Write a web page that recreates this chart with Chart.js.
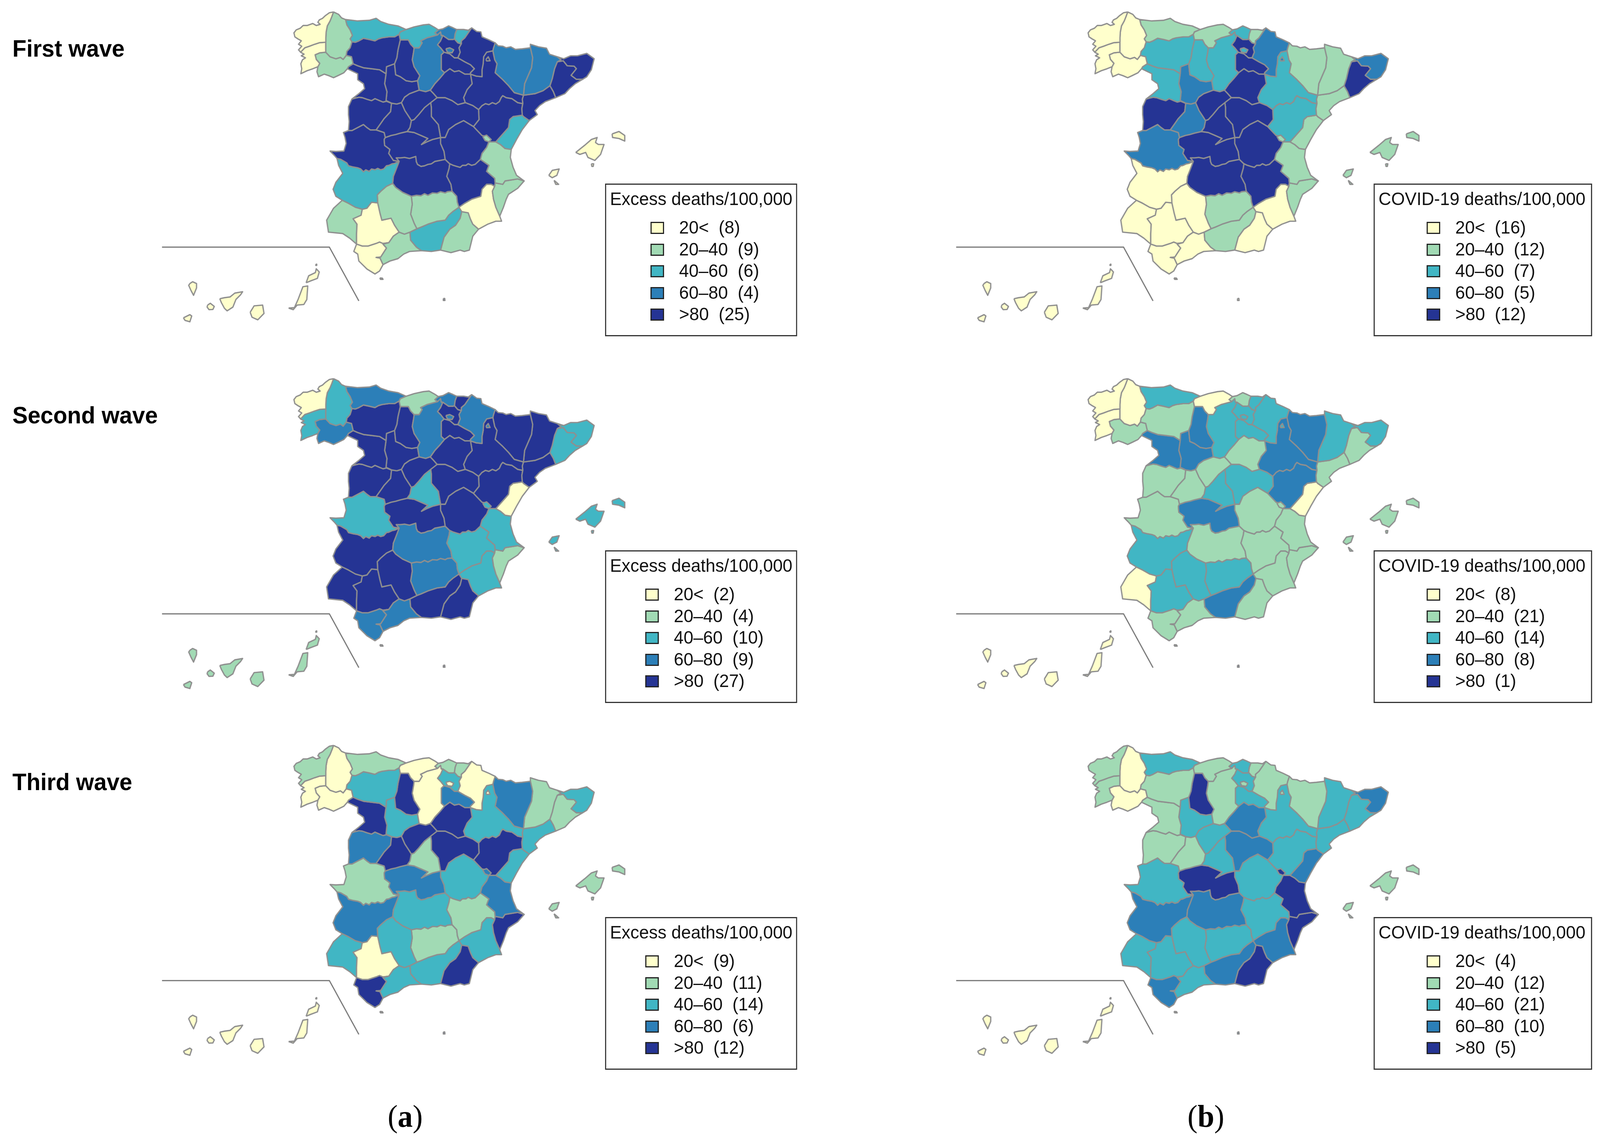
<!DOCTYPE html>
<html><head><meta charset="utf-8">
<script src="https://cdn.jsdelivr.net/npm/chart.js@4"></script>
<style>
html,body{margin:0;padding:0;background:#fff;overflow:hidden}
#page{position:relative;width:4255px;height:2924px;overflow:hidden;background:#fff;transform-origin:0 0}
canvas{position:absolute}
.t{position:absolute;white-space:pre;font-family:"Liberation Sans",Arial,sans-serif;line-height:1;color:#111}
.box{position:absolute;border:3px solid #333;box-sizing:border-box}
.sw{position:absolute;border:3px solid #222;box-sizing:border-box}
</style></head><body><div id="page"></div>
<script>
// ---------- data ----------
const provinces=["A Coruña","Pontevedra","Lugo","Ourense","Asturias","Cantabria","Bizkaia","Gipuzkoa","Álava","Navarra","Burgos","León","Palencia","Zamora","Valladolid","Soria","La Rioja","Segovia","Ávila","Madrid","Salamanca","Guadalajara","Zaragoza","Huesca","Lleida","Girona","Barcelona","Tarragona","Teruel","Castellón","Valencia","Alicante","Murcia","Albacete","Cuenca","Toledo","Ciudad Real","Cáceres","Badajoz","Córdoba","Jaén","Granada","Almería","Málaga","Cádiz","Sevilla","Huelva","Illes Balears","Las Palmas","Tenerife","Ceuta","Melilla"];
// class of each province (0:<20, 1:20-40, 2:40-60, 3:60-80, 4:>80)
const excessFirst =[0,0,1,1,2,2,3,2,4,4,3,4,4,4,4,4,4,4,4,4,4,4,4,3,3,4,4,4,4,2,1,1,0,4,4,4,4,4,2,1,1,2,1,1,0,0,1,0,0,0,4,4];
const excessSecond=[0,2,2,3,3,1,3,4,4,3,3,4,4,4,4,4,4,4,4,2,4,4,4,4,4,2,2,4,4,0,2,1,2,2,4,4,3,2,4,4,3,4,4,3,3,4,4,2,1,1,4,4];
const excessThird =[1,0,0,0,1,0,1,1,2,0,0,2,4,4,2,4,3,4,4,1,3,4,2,3,1,2,1,2,4,2,3,4,2,1,2,3,2,1,3,2,1,2,4,2,4,0,2,1,0,0,4,4];
const covidFirst  =[0,0,0,0,1,1,2,1,4,3,2,2,2,2,3,4,4,4,3,4,4,4,2,1,1,3,4,1,2,1,1,1,0,4,4,4,4,3,0,0,1,1,0,0,0,0,0,1,0,0,0,0];
const covidSecond =[0,0,0,1,2,0,1,2,2,2,2,1,3,3,3,1,2,1,1,2,1,2,3,3,2,2,1,1,3,0,1,1,1,1,1,3,1,1,2,2,2,3,1,1,1,2,0,1,0,0,1,4];
const covidThird  =[1,1,0,0,2,1,2,1,2,1,1,1,4,1,2,3,2,2,1,2,1,3,2,1,2,3,2,2,2,3,4,4,3,2,2,4,3,2,3,2,2,3,4,2,3,2,2,1,0,0,2,3];
const classColors=["#FFFFCC","#A1DAB4","#41B6C4","#2C7FB8","#253494"];
const legendLabels=["20<","20–40","40–60","60–80",">80"];
const countsExcessFirst =[8,9,6,4,25];
const countsExcessSecond=[2,4,10,9,27];
const countsExcessThird =[9,11,14,6,12];
const countsCovidFirst  =[16,12,7,5,12];
const countsCovidSecond =[8,21,14,8,1];
const countsCovidThird  =[4,12,21,10,5];
const waveNames=["First wave","Second wave","Third wave"];
const legendTitles=["Excess deaths/100,000","COVID-19 deaths/100,000"];

// province border arcs, in map units
const ARC={
cor_coast:[[240,60],[222,64],[205,78],[192,92],[178,100],[172,112],[182,122],[165,128],[150,118],[125,128],[108,128],[95,142],[78,150],[68,165],[72,185],[85,195],[100,205],[88,222],[102,232],[88,250],[97,262]],
cor_lug:[[240,60],[232,85],[225,105],[213,130],[208,160],[207,190],[206,212]],
cor_pon:[[206,212],[180,214],[158,222],[135,232],[115,240],[97,262]],
pon_coast:[[97,262],[112,272],[100,280],[118,290],[105,300],[98,320],[102,345],[98,370]],
pon_port:[[98,370],[125,355],[150,345],[172,335]],
pon_our:[[172,335],[180,318],[165,298],[160,275],[180,265],[206,262]],
pon_lug:[[206,262],[206,235],[206,212]],
lug_our:[[206,262],[225,285],[250,295],[270,288],[282,298],[295,278]],
lug_coast:[[240,60],[262,72],[275,90],[292,98]],
lug_ast:[[292,98],[298,125],[312,150],[322,178],[312,195],[320,210]],
lug_leon:[[320,210],[312,240],[298,258],[295,278]],
our_leon:[[295,278],[318,285],[322,305],[325,320]],
our_zam:[[325,320],[305,335],[300,345]],
our_port:[[172,335],[168,360],[175,385],[200,372],[220,380],[240,390],[262,378],[285,365],[300,345]],
ast_coast:[[292,98],[345,105],[395,102],[425,92],[445,108],[480,122],[520,130],[555,148]],
ast_leon:[[320,210],[335,212],[350,205],[370,192],[395,198],[420,205],[435,195],[450,190],[480,185],[505,185],[525,172]],
ast_can:[[525,172],[530,160],[555,148]],
can_coast:[[555,148],[590,135],[630,125],[655,122],[680,138],[695,150]],
can_leon:[[525,172],[530,200]],
can_pal:[[530,200],[565,200],[575,222],[590,240]],
can_bur:[[590,240],[612,240],[625,215],[618,205],[645,190],[670,182],[692,175]],
can_biz:[[692,175],[680,165],[695,150]],
biz_coast:[[695,150],[715,145],[740,130],[760,140],[775,148]],
biz_ala:[[715,178],[740,198],[760,198],[765,195]],
biz_bur:[[692,175],[705,160],[708,178],[715,178]],
biz_gip:[[765,195],[768,170],[775,148]],
gip_coast:[[775,148],[805,148],[825,152],[840,140]],
gip_nav:[[840,140],[825,165],[810,190],[795,205],[795,220]],
gip_ala:[[795,220],[780,215],[765,195]],
ala_bur:[[715,178],[705,205],[692,225],[705,240],[720,262]],
ala_rio:[[720,262],[745,270],[765,290],[780,290]],
ala_nav:[[780,290],[790,262],[785,240],[795,220]],
nav_coast:[[840,140],[862,158],[880,160],[885,185],[915,200],[942,215]],
nav_hue:[[942,215],[935,240],[932,255]],
nav_zar:[[932,255],[905,262],[892,285],[890,320],[885,350],[885,385]],
nav_rio:[[780,290],[810,310],[835,325],[852,345]],
nav_rio2:[[852,345],[835,365],[835,372]],
nav_zar2:[[835,372],[860,382],[885,385]],
rio_bur:[[720,262],[708,275],[708,310],[708,350],[722,365]],
rio_sor:[[722,365],[745,345],[765,360],[785,355],[810,372],[835,372]],
bur_sor:[[722,365],[700,395],[680,420],[665,445],[660,452]],
bur_seg:[[660,452],[640,460],[612,452]],
bur_val:[[612,452],[605,405]],
bur_pal:[[605,405],[615,380],[590,335],[582,300],[588,260],[590,240]],
pal_leon:[[530,200],[520,250],[515,290],[505,320]],
pal_val:[[505,320],[510,375],[530,385],[555,405],[580,410],[605,405]],
leon_val:[[505,320],[470,335],[468,370]],
leon_zam:[[468,370],[440,350],[405,345],[370,340],[345,330],[325,320]],
val_seg:[[612,452],[570,470],[548,488],[535,515]],
val_avi:[[535,515],[515,522],[492,518]],
val_zam:[[492,518],[468,505],[472,460],[462,420],[468,370]],
zam_sal:[[492,518],[470,508],[455,512],[440,505],[420,495],[405,505],[385,498],[365,490],[350,488],[335,492],[320,497]],
zam_port:[[320,497],[350,470],[375,445],[370,420],[345,400],[345,370],[300,345]],
sal_avi:[[492,518],[488,560],[460,595],[445,620],[425,652]],
sal_cac:[[425,652],[400,652],[385,640],[370,625],[345,640],[320,655],[305,655]],
sal_port:[[305,655],[308,610],[305,575],[305,535],[320,497]],
avi_seg:[[535,515],[550,555],[570,590],[578,605]],
avi_mad:[[578,605],[572,640],[560,660]],
avi_tol:[[560,660],[530,668],[510,675],[490,680],[465,690]],
avi_cac:[[465,690],[460,665],[425,652]],
seg_sor:[[660,452],[675,470],[690,490]],
seg_gua:[[690,490],[662,515]],
seg_mad:[[662,515],[635,540],[610,575],[590,600],[578,605]],
sor_zar:[[835,372],[842,420],[820,450],[805,490],[812,515]],
sor_gua:[[812,515],[780,525],[755,505],[725,490],[690,490]],
mad_tol:[[560,660],[590,665],[620,680],[650,695],[622,725],[645,712],[670,700],[705,690]],
mad_gua:[[705,690],[695,625],[665,585],[665,540],[662,515]],
gua_zar:[[812,515],[845,530],[870,550]],
gua_ter:[[870,550],[872,600],[848,635]],
gua_cue:[[848,635],[805,605],[770,625],[740,650],[725,690],[705,690]],
zar_ter:[[870,550],[885,530],[900,520],[915,525],[930,515],[945,522],[960,510],[968,490],[975,480],[990,490],[1015,495],[1040,515],[1062,520]],
zar_tar:[[1062,520],[1060,498],[1065,478]],
zar_hue:[[1065,478],[1025,465],[1000,430],[975,400],[942,365],[950,320],[940,300],[932,255]],
hue_fr:[[942,215],[955,230],[975,232],[990,240],[1010,235],[1030,248],[1060,245],[1095,240]],
hue_lle:[[1095,240],[1105,290],[1100,340],[1070,420],[1065,478]],
lle_fr:[[1095,240],[1095,222],[1130,235],[1165,242],[1178,272],[1212,285]],
lle_gir:[[1212,285],[1228,300],[1212,310]],
lle_bar:[[1212,310],[1200,345],[1190,395],[1180,430]],
lle_tar:[[1180,430],[1150,455],[1115,470],[1065,478]],
gir_fr:[[1212,285],[1240,295],[1270,280],[1300,280],[1340,268],[1372,295]],
gir_coast:[[1372,295],[1360,350],[1340,385],[1322,398]],
gir_bar:[[1322,398],[1295,398],[1272,378],[1295,345],[1285,332],[1255,330],[1238,305],[1212,310]],
bar_coast:[[1322,398],[1290,420],[1265,445],[1245,470],[1205,490]],
bar_tar:[[1205,490],[1195,460],[1180,430]],
tar_coast:[[1205,490],[1160,510],[1135,530],[1115,555],[1125,575],[1090,605]],
tar_cas:[[1090,605],[1065,585],[1060,578]],
tar_ter:[[1060,578],[1058,545],[1062,520]],
ter_cas:[[1060,578],[1020,585],[1005,600],[1000,640],[985,660],[945,712]],
ter_val:[[945,712],[915,712]],
ter_cue:[[915,712],[905,685],[885,680],[860,650],[848,635]],
cas_coast:[[1090,605],[1060,650],[1035,700],[1012,750]],
cas_val:[[1012,750],[985,745],[965,725],[945,712]],
val_coast:[[1012,750],[1008,790],[1020,840],[1035,880],[1068,908]],
val_ali:[[1068,908],[1040,898],[985,908],[975,925],[942,918]],
val_alb:[[942,918],[940,895],[905,860],[915,830],[878,800]],
val_cue:[[878,800],[885,770],[905,740],[915,712]],
ali_coast:[[1068,908],[1040,945],[1000,975],[990,1000],[978,1040],[962,1085]],
ali_mur:[[962,1085],[945,1040],[935,1000],[930,960],[940,935]],
ali_alb:[[940,935],[942,918]],
mur_coast:[[962,1085],[970,1110],[945,1110],[910,1125],[870,1150]],
mur_alm:[[870,1150],[845,1125],[835,1100],[825,1068]],
mur_gra1:[[825,1068],[797,1062]],
mur_gra2:[[797,1062],[785,1040]],
mur_alb:[[785,1040],[810,1020],[840,1000],[880,985],[885,950],[905,925],[925,925],[940,935]],
alb_jae:[[785,1040],[778,1015],[775,985],[755,960]],
alb_cr:[[755,960],[750,925],[732,885],[742,845],[745,822]],
alb_cue:[[745,822],[760,830],[775,835],[790,840],[800,830],[815,830],[825,822],[840,830],[855,825],[878,800]],
cue_cr:[[725,800],[745,822]],
tol_cue:[[725,800],[720,760],[705,720],[705,690]],
tol_cr:[[725,800],[680,810],[665,822],[650,825],[635,832],[620,835],[605,825],[600,812],[597,785],[570,795],[550,790],[530,792],[512,792],[525,810]],
tol_cac:[[525,810],[500,805],[480,770],[485,750],[462,730],[460,700],[465,690]],
cr_jae:[[755,960],[735,962],[725,968],[705,962],[690,970],[670,968],[650,980],[635,972],[620,982],[600,980],[578,985]],
cr_cor:[[578,985],[540,965],[510,940],[497,920]],
cr_bad:[[497,920],[500,885],[512,850],[525,810]],
cac_bad:[[525,810],[505,820],[495,822],[480,830],[470,832],[458,848],[445,852],[432,845],[420,852],[405,848],[395,860],[380,852],[370,862],[358,848],[345,842],[325,838],[305,832],[298,818],[272,800],[255,795]],
cac_port:[[255,795],[242,778],[225,758],[250,760],[285,758],[295,720],[290,690],[283,665],[305,655]],
bad_cor:[[497,920],[470,935],[445,960],[430,978],[432,1018]],
bad_sev:[[432,1018],[405,1015],[385,1045],[365,1050]],
bad_hue:[[365,1050],[335,1040],[305,1020],[278,1005]],
bad_port:[[278,1005],[250,985],[238,950],[250,915],[280,870],[262,830],[255,795]],
cor_jae:[[578,985],[582,1025],[575,1075],[590,1120],[602,1148]],
cor_gra:[[602,1148],[572,1165]],
cor_mal:[[572,1165],[548,1175],[525,1165]],
cor_sev:[[525,1165],[505,1130],[490,1095],[450,1105],[442,1070],[432,1018]],
jae_gra:[[785,1040],[760,1060],[740,1080],[725,1105],[690,1110],[650,1125],[620,1140],[602,1148]],
gra_alm:[[797,1062],[790,1095],[770,1130],[745,1150],[720,1190],[705,1255]],
gra_coast:[[705,1255],[665,1262],[622,1258]],
gra_mal:[[622,1258],[600,1240],[575,1205],[572,1165]],
alm_coast:[[870,1150],[845,1185],[830,1255],[808,1262],[790,1255],[750,1268],[705,1255]],
mal_coast:[[622,1258],[570,1262],[545,1275],[520,1298],[485,1310],[455,1328]],
mal_cad:[[455,1328],[442,1295],[425,1292],[445,1290],[470,1245],[455,1225],[480,1218]],
mal_sev:[[480,1218],[500,1185],[525,1165]],
sev_hue:[[365,1050],[360,1080],[325,1098],[342,1125],[340,1175],[340,1225]],
sev_cad:[[340,1225],[365,1235],[390,1235],[425,1222],[440,1215],[455,1222],[480,1218]],
hue_coast:[[340,1225],[310,1195],[280,1172],[218,1165]],
hue_port:[[218,1165],[210,1105],[240,1045],[278,1005]],
cad_coast:[[340,1225],[328,1262],[345,1275],[350,1310],[385,1350],[420,1375],[440,1360],[455,1328]]
};
// each province: rings, each made of arcs ("-" = reversed)
const RINGS={
"A Coruña":["cor_coast -cor_pon -cor_lug"],
"Pontevedra":["cor_pon pon_coast pon_port pon_our pon_lug"],
"Lugo":["lug_coast lug_ast lug_leon -lug_our pon_lug -cor_lug"],
"Ourense":["-pon_our our_port -our_zam -our_leon -lug_our"],
"Asturias":["ast_coast -ast_can -ast_leon -lug_ast"],
"Cantabria":["can_coast -can_biz -can_bur -can_pal -can_leon ast_can"],
"Bizkaia":["biz_coast -biz_gip -biz_ala -biz_bur can_biz"],
"Gipuzkoa":["gip_coast gip_nav gip_ala biz_gip"],
"Álava":["biz_ala -gip_ala -ala_nav -ala_rio -ala_bur"],
"Navarra":["nav_coast nav_hue nav_zar -nav_zar2 -nav_rio2 -nav_rio ala_nav -gip_nav"],
"Burgos":["can_bur biz_bur ala_bur rio_bur bur_sor bur_seg bur_val bur_pal"],
"León":["ast_leon can_leon pal_leon leon_val leon_zam -our_leon -lug_leon"],
"Palencia":["can_pal -bur_pal -pal_val -pal_leon"],
"Zamora":["-leon_zam -val_zam zam_sal zam_port -our_zam"],
"Valladolid":["pal_val -bur_val val_seg val_avi val_zam -leon_val"],
"Soria":["-bur_sor rio_sor sor_zar sor_gua -seg_sor"],
"La Rioja":["ala_rio nav_rio nav_rio2 -rio_sor -rio_bur"],
"Segovia":["-bur_seg seg_sor seg_gua seg_mad -avi_seg -val_seg"],
"Ávila":["-val_avi avi_seg avi_mad avi_tol avi_cac -sal_avi"],
"Madrid":["seg_mad avi_mad mad_tol mad_gua"],
"Salamanca":["-zam_sal sal_avi sal_cac sal_port"],
"Guadalajara":["-seg_gua -sor_gua gua_zar gua_ter gua_cue mad_gua"],
"Zaragoza":["nav_zar -nav_zar2 sor_zar gua_zar zar_ter zar_tar zar_hue"],
"Huesca":["-nav_hue hue_fr hue_lle zar_hue"],
"Lleida":["lle_fr lle_gir lle_bar lle_tar -hue_lle"],
"Girona":["gir_fr gir_coast gir_bar -lle_gir"],
"Barcelona":["-gir_bar bar_coast bar_tar -lle_bar"],
"Tarragona":["-lle_tar -bar_tar tar_coast tar_cas tar_ter zar_tar"],
"Teruel":["zar_ter -tar_ter ter_cas ter_val ter_cue -gua_ter"],
"Castellón":["-tar_cas cas_coast cas_val -ter_cas"],
"Valencia":["-ter_val -cas_val val_coast val_ali val_alb val_cue"],
"Alicante":["-val_ali ali_coast ali_mur ali_alb"],
"Murcia":["-ali_mur mur_coast mur_alm mur_gra1 mur_gra2 mur_alb"],
"Albacete":["-val_alb -ali_alb -mur_alb alb_jae alb_cr alb_cue"],
"Cuenca":["-gua_cue -ter_cue -val_cue -alb_cue -cue_cr tol_cue"],
"Toledo":["-avi_tol mad_tol -tol_cue tol_cr tol_cac"],
"Ciudad Real":["-tol_cr cue_cr -alb_cr cr_jae cr_cor cr_bad"],
"Cáceres":["-sal_cac -avi_cac -tol_cac cac_bad cac_port"],
"Badajoz":["-cac_bad -cr_bad bad_cor bad_sev bad_hue bad_port"],
"Córdoba":["-bad_cor -cr_cor cor_jae cor_gra cor_mal cor_sev"],
"Jaén":["-cr_jae -alb_jae jae_gra -cor_jae"],
"Granada":["-jae_gra -mur_gra2 gra_alm gra_coast gra_mal -cor_gra"],
"Almería":["-mur_alm alm_coast -gra_alm -mur_gra1"],
"Málaga":["-cor_mal -gra_mal mal_coast mal_cad mal_sev"],
"Cádiz":["-sev_cad cad_coast mal_cad"],
"Sevilla":["bad_sev sev_hue sev_cad mal_sev cor_sev"],
"Huelva":["-bad_hue sev_hue hue_coast hue_port"]
};
// islands, enclaves and city territories as separate outlines
const EXTRA={
"Illes Balears":[[[1292,765],[1330,730],[1360,700],[1385,690],[1378,715],[1390,725],[1415,725],[1400,775],[1375,805],[1345,790],[1335,765],[1310,775]],[[1450,672],[1480,660],[1505,680],[1505,708],[1480,695],[1452,690]],[[1175,880],[1190,855],[1220,848],[1210,880],[1190,892]],[[1198,905],[1205,925],[1218,925],[1205,912]],[[1360,822],[1370,822],[1368,835],[1362,835]]],
"Las Palmas":[[[-122,1567],[-105,1535],[-68,1531],[-62,1573],[-89,1605],[-114,1592]],[[45,1546],[70,1544],[86,1503],[107,1439],[128,1435],[124,1503],[111,1528],[82,1531],[65,1554]],[[121,1419],[132,1384],[161,1368],[165,1349],[178,1365],[170,1397],[140,1410]],[[163,1326],[167,1326],[167,1332],[163,1332]]],
"Tenerife":[[[-254,1499],[-234,1494],[-209,1490],[-189,1471],[-155,1464],[-164,1480],[-184,1503],[-197,1541],[-222,1560],[-234,1547],[-247,1519]],[[-384,1423],[-372,1414],[-355,1423],[-355,1445],[-368,1482],[-379,1458],[-389,1432]],[[-307,1531],[-295,1522],[-278,1538],[-284,1553],[-301,1554],[-309,1541]],[[-412,1595],[-384,1579],[-376,1586],[-384,1615],[-405,1608]]],
"Ceuta":[[[441,1395],[452,1396],[455,1402],[444,1402]]],
"Melilla":[[[717,1498],[723,1498],[724,1508],[717,1508]]],
"Burgos":[[[728,245],[745,240],[762,250],[755,265],[735,262]]],
"Navarra":[[[902,298],[912,285],[920,305],[905,306]]],
"Valencia":[[[888,685],[905,678],[925,700],[915,712],[898,705]]]
};
const insetLine=[[-505,1240],[222,1240],[350,1510]];

// ---------- layout ----------
const PX=1.6333, PY=1.96;         // map units per pixel
const canvasLeft=420,canvasW=1290,canvasH=860,mapLeft=740;
const colX=[0,2112], rowY=[0,939,1878];
const panels=[
 {c:0,r:0,cls:excessFirst ,cnt:countsExcessFirst ,sw:1730,tx:1806},
 {c:0,r:1,cls:excessSecond,cnt:countsExcessSecond,sw:1716,tx:1792},
 {c:0,r:2,cls:excessThird ,cnt:countsExcessThird ,sw:1716,tx:1792},
 {c:1,r:0,cls:covidFirst  ,cnt:countsCovidFirst  ,sw:3794,tx:3870},
 {c:1,r:1,cls:covidSecond ,cnt:countsCovidSecond ,sw:3794,tx:3870},
 {c:1,r:2,cls:covidThird  ,cnt:countsCovidThird  ,sw:3794,tx:3870}
];
const boxes=[{x:1609,w:511,tx:1622},{x:3653,w:581,tx:3666}];
const page=document.getElementById('page');
// the browser window may be narrower than the requested 4255 px: keep the whole figure visible
page.style.transform='scale('+(Math.min(window.innerWidth,4255)/4255)+',1)';
function ringPts(spec){let out=[];spec.split(' ').forEach(n=>{let a=n[0]==='-'?ARC[n.slice(1)].slice().reverse():ARC[n];out=out.concat(a);});return out;}
function close(pts){return pts.concat([pts[0]]).map(p=>({x:p[0],y:p[1]}));}
const BORDER='#8f8f8f';
function buildDatasets(cls){
 const ds=[];
 provinces.forEach((name,i)=>{
  const col=classColors[cls[i]];
  (RINGS[name]||[]).forEach(r=>ds.push({label:name,data:close(ringPts(r)),order:2,backgroundColor:col,borderColor:BORDER}));
  (EXTRA[name]||[]).forEach(r=>ds.push({label:name,data:close(r),order:1,backgroundColor:col,borderColor:BORDER}));
 });
 ds.forEach(d=>{d.fill='shape';d.borderWidth=3.4;d.pointRadius=0;d.tension=0;d.borderJoinStyle='round';});
 ds.push({label:'inset',data:insetLine.map(p=>({x:p[0],y:p[1]})),order:0,fill:false,borderColor:'#777',borderWidth:3,pointRadius:0,tension:0});
 return ds;
}
function addText(s,x,base,size,extra){const d=document.createElement('div');d.className='t';d.textContent=s;d.style.left=x+'px';d.style.top=(base-0.8465*size)+'px';d.style.fontSize=size+'px';if(extra)Object.assign(d.style,extra);page.appendChild(d);return d;}
panels.forEach(p=>{
 const ox=colX[p.c],oy=rowY[p.r];
 const cv=document.createElement('canvas');
 cv.width=canvasW;cv.height=canvasH;cv.style.left=(canvasLeft+ox)+'px';cv.style.top=oy+'px';cv.style.width=canvasW+'px';cv.style.height=canvasH+'px';
 page.appendChild(cv);
 new Chart(cv,{type:'line',data:{datasets:buildDatasets(p.cls)},options:{
  responsive:false,animation:false,devicePixelRatio:1,layout:{padding:0},
  plugins:{legend:{display:false},tooltip:{enabled:false},title:{display:false}},
  scales:{
   x:{type:'linear',display:false,min:(canvasLeft-mapLeft)*PX,max:(canvasLeft+canvasW-mapLeft)*PX},
   y:{type:'linear',display:false,reverse:true,min:0,max:canvasH*PY}
  }}});
 const bx=boxes[p.c];
 const b=document.createElement('div');b.className='box';b.style.left=bx.x+'px';b.style.top=(470+oy)+'px';b.style.width=bx.w+'px';b.style.height='391px';page.appendChild(b);
 addText(legendTitles[p.c],bx.tx,526+oy,46.7);
 legendLabels.forEach((lab,i)=>{
  const s=document.createElement('div');s.className='sw';s.style.left=p.sw+'px';s.style.top=(568+oy+i*55.5)+'px';s.style.width='36px';s.style.height='31px';s.style.background=classColors[i];page.appendChild(s);
  addText(lab+'  ('+p.cnt[i]+')',p.tx,599+oy+i*55.5,46.7);
 });
});
waveNames.forEach((w,i)=>addText(w,33,146+rowY[i],61,{fontWeight:'bold',color:'#000'}));
function sub(letter,cx){const d=addText('',cx-47,2886,80,{fontFamily:'"Liberation Serif",serif',color:'#000'});d.innerHTML='(<b>'+letter+'</b>)';}
sub('a',1078);sub('b',3205);
</script></body></html>
